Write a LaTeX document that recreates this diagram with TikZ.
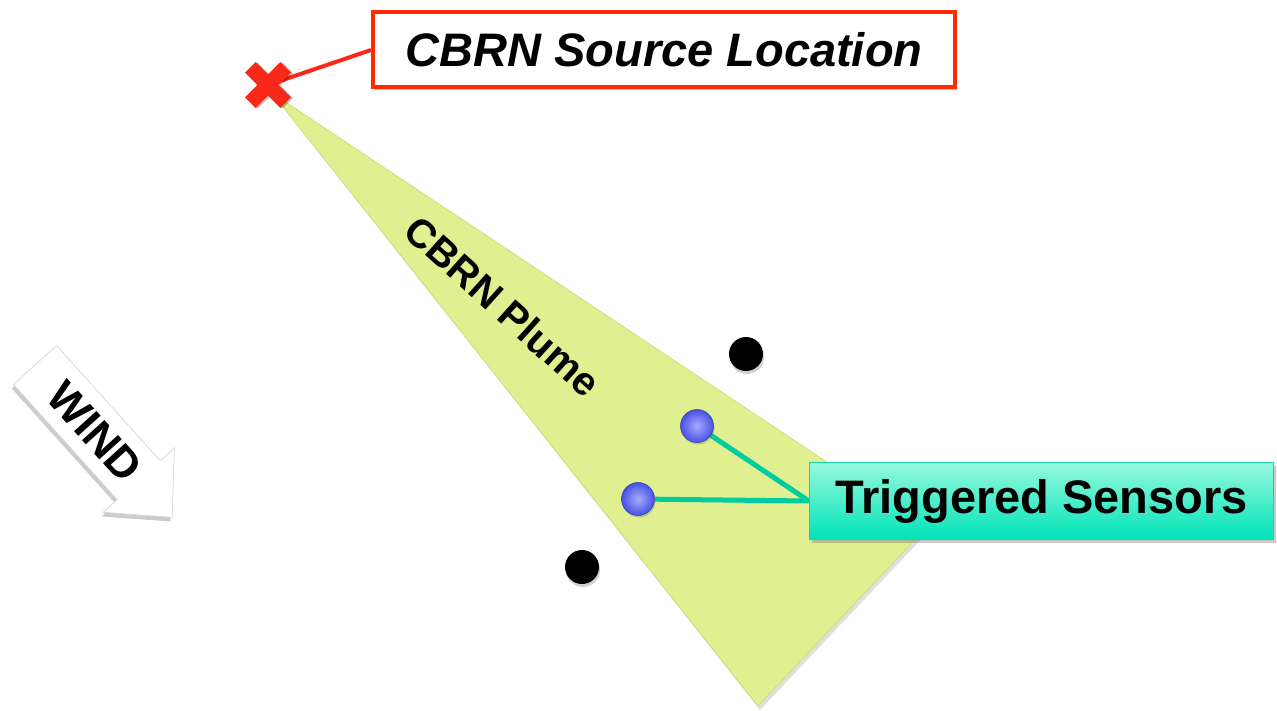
\documentclass[tikz,border=0pt]{standalone}
\usepackage{fontspec}
\setmainfont{Liberation Sans}
\usetikzlibrary{shadows}
\pgfdeclarelayer{bg}
\pgfdeclarelayer{mid}
\pgfsetlayers{bg,mid,main}
\definecolor{plumec}{RGB}{224,240,144}
\definecolor{plumeedge}{RGB}{205,222,125}
\definecolor{redx}{RGB}{250,40,25}
\definecolor{redbox}{RGB}{255,42,0}
\definecolor{tealline}{RGB}{0,204,160}
\definecolor{tealtop}{RGB}{150,248,222}
\definecolor{tealbot}{RGB}{0,228,184}
\definecolor{tealedge}{RGB}{30,208,168}
\definecolor{sensorin}{RGB}{165,172,255}
\definecolor{sensorout}{RGB}{72,82,225}
\tikzset{
  x=1pt,y=1pt,
  srcbox/.style={draw=redbox,line width=4pt,fill=white,minimum width=582pt,minimum height=75pt,
    font=\fontsize{47}{56}\selectfont\bfseries\itshape,
    drop shadow={shadow xshift=2pt,shadow yshift=-3pt,opacity=0.35,fill=black!60}},
  trigbox/.style={draw=tealedge,line width=1.5pt,top color=tealtop,bottom color=tealbot,
    minimum width=464pt,minimum height=77pt,font=\fontsize{47}{56}\selectfont\bfseries,
    drop shadow={shadow xshift=2pt,shadow yshift=-3pt,opacity=0.35,fill=black!60}},
  sensor/.style={circle,minimum size=33pt,inner sep=0pt,inner color=sensorin,outer color=sensorout,
    draw=sensorout!80!black,line width=0.6pt,
    drop shadow={shadow xshift=1pt,shadow yshift=-2pt,opacity=0.3,fill=black!60}},
  blackdot/.style={circle,minimum size=34pt,inner sep=0pt,fill=black,
    drop shadow={shadow xshift=1pt,shadow yshift=-3pt,opacity=0.3,fill=black!60}},
  link/.style={line width=5pt},
}
\begin{document}
\begin{tikzpicture}
\useasboundingbox (0,0) rectangle (1277,-711);
% plume
\begin{pgfonlayer}{bg}
\fill[black,opacity=0.12] (274,-96) -- (929,-531) -- (760,-710) -- cycle;
\filldraw[fill=plumec,draw=plumeedge,line width=0.8pt] (272,-93) -- (926,-528) -- (758,-706) -- cycle;
\end{pgfonlayer}
\node[rotate=-42,font=\fontsize{40}{48}\selectfont\bfseries] (plume) at (503,-306) {CBRN Plume};
% wind arrow
\begin{scope}[shift={(35,-365)},rotate=-48]
\fill[black,opacity=0.2,shift={(2,-4)}] (0,29) -- (155,29) -- (155,48) -- (205,0) -- (155,-48) -- (155,-29) -- (0,-29) -- cycle;
\filldraw[fill=white,draw=black!15,line width=0.8pt] (0,29) -- (155,29) -- (155,48) -- (205,0) -- (155,-48) -- (155,-29) -- (0,-29) -- cycle;
\node[transform shape,font=\fontsize{44}{52}\selectfont\bfseries] (wind) at (90,0) {WIND};
\end{scope}
% source marker
\node[inner sep=0pt,minimum size=1pt] (x) at (268,-85) {};
\node[srcbox] (src) at (664,-50) {CBRN Source Location};
\begin{pgfonlayer}{mid}
\draw[redx,line width=4pt] (x.center) -- (src.west);
\end{pgfonlayer}
\begin{scope}[shift={(268,-85)},rotate=45]
\fill[black,opacity=0.25,shift={(1,-2)}] (-25,-7.5) rectangle (25,7.5) (-7.5,-25) rectangle (7.5,25);
\fill[redx] (-25,-7.5) rectangle (25,7.5);
\fill[redx] (-7.5,-25) rectangle (7.5,25);
\end{scope}
% sensors
\node[blackdot] (d1) at (746,-354) {};
\node[blackdot] (d2) at (582,-567) {};
\node[trigbox] (trig) at (1041.5,-501) {Triggered Sensors};
\node[sensor] (s1) at (697,-426) {};
\node[sensor] (s2) at (638,-499) {};
\begin{pgfonlayer}{mid}
\draw[tealline,link] (s1) -- (trig.west);
\draw[tealline,link] (s2) -- (trig.west);
\end{pgfonlayer}
\end{tikzpicture}
\end{document}
